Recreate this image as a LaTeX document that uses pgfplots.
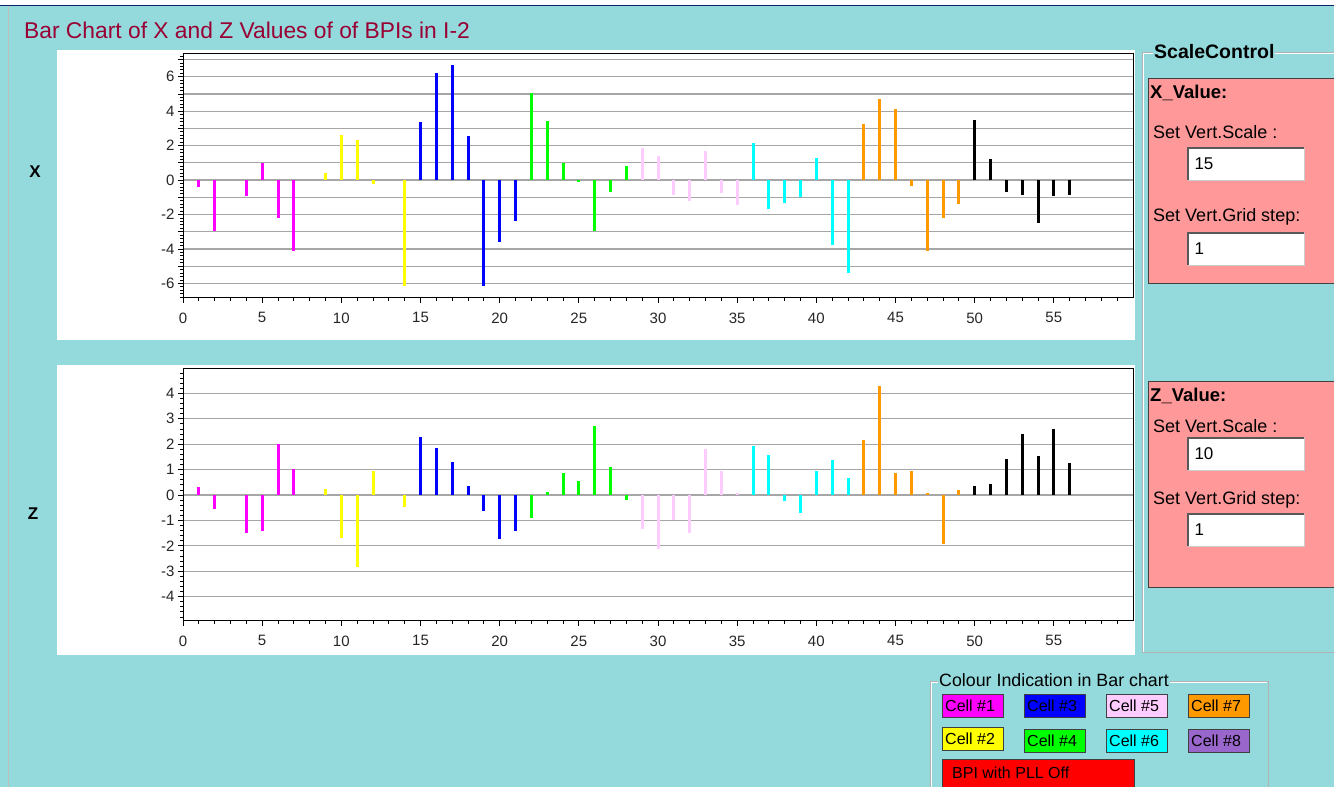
\documentclass[border=0pt]{standalone}
\usepackage{fontspec}
\setmainfont{Liberation Sans}
\usepackage{pgfplots}
\pgfplotsset{compat=1.18}

\definecolor{bg}{RGB}{148,218,221}
\definecolor{navy}{RGB}{10,36,106}
\definecolor{titlered}{RGB}{153,0,51}
\definecolor{boxpink}{RGB}{255,153,153}
\definecolor{c1}{RGB}{255,0,255}
\definecolor{c2}{RGB}{255,255,0}
\definecolor{c3}{RGB}{0,0,255}
\definecolor{c4}{RGB}{0,255,0}
\definecolor{c5}{RGB}{255,204,255}
\definecolor{c6}{RGB}{0,255,255}
\definecolor{c7}{RGB}{255,153,0}
\definecolor{c8}{RGB}{153,102,204}
\definecolor{pll}{RGB}{255,0,0}

\newcommand\fs[1]{\fontsize{#1}{#1}\selectfont}
% text box: y top, y bottom, content
\newcommand\tbox[3]{%
  \fill[white] (1188,#1) rectangle (1304,#2);
  \draw[black!65, line width=1.5] (1188,#2) -- (1188,#1) -- (1304,#1);
  \draw[black!20] (1304,#1) -- (1304,#2) -- (1188,#2);
  \node[anchor=west, font=\fs{17}] at (1191,{(#1+#2)/2}) {#3};}
% legend swatch: x left, y top, colour, label
\newcommand\swatch[4]{%
  \draw[fill=#3, draw=black!75] (#1,#2) rectangle ({#1+61},{#2+23});
  \node[anchor=west, font=\fs{16}, inner sep=0pt] at ({#1+3},{#2+12}) {#4};}

\pgfplotsset{
  bpiaxis/.style={
    scale only axis, width=950pt,
    xmin=0, xmax=60,
    xtick={0,5,...,55}, minor xtick={1,2,...,59},
    tick align=outside, xtick pos=bottom, ytick pos=left,
    major tick length=5pt, minor tick length=3pt,
    axis line style={black, line width=1pt},
    tick style={black, line width=0.8pt},
    ymajorgrids, major grid style={black!35, line width=1.2pt},
    /pgf/number format/assume math mode=true,
    ticklabel style={font=\fs{15}, text=black!85},
    xticklabel style={yshift=-6pt},
    every axis plot/.append style={ycomb, no markers, line width=3pt},
  }
}

\begin{document}
\begin{tikzpicture}
\useasboundingbox (0pt,0pt) rectangle (1334pt,787pt);
\fill[bg] (0pt,0pt) rectangle (1334pt,787pt);
\begin{scope}[x=1pt, y=-1pt, shift={(0pt,787pt)}]
  \fill[white] (0,0) rectangle (1334,5);
  \draw[navy, line width=1.5] (0,5.5) -- (1334,5.5);
  \draw[black!25] (8,6) -- (8,787);
  \fill[white] (57,50) rectangle (1135,340);
  \fill[white] (57,365) rectangle (1135,655);
  \node[anchor=base west, inner sep=0pt, font=\fs{22.8}, text=titlered] at (24,39)
    {Bar Chart of X and Z Values of of BPIs in I-2};
  \node[font=\fs{17}\bfseries] at (35,172) {X};
  \node[font=\fs{17}\bfseries] at (33,514) {Z};

  % ScaleControl group
  \draw[black!30] (1142,652) -- (1142,52) -- (1334,52);
  \draw[white] (1143,652) -- (1143,53) -- (1334,53);
  \draw[black!30] (1142,652) -- (1334,652);
  \node[anchor=west, fill=bg, inner sep=1pt, font=\fs{19.5}\bfseries] at (1153,52) {ScaleControl};
  \draw[fill=boxpink, draw=black!75] (1148,78) rectangle (1340,283);
  \node[anchor=west, font=\fs{18.5}\bfseries, inner sep=0pt] at (1150,93) {X\_Value:};
  \node[anchor=west, font=\fs{18}, inner sep=0pt] at (1153,132) {Set Vert.Scale :};
  \tbox{148}{180}{15}
  \node[anchor=west, font=\fs{18}, inner sep=0pt] at (1153,217) {Set Vert.Grid step:};
  \tbox{233}{265}{1}
  \draw[fill=boxpink, draw=black!75] (1148,381) rectangle (1340,587);
  \node[anchor=west, font=\fs{18.5}\bfseries, inner sep=0pt] at (1150,396) {Z\_Value:};
  \node[anchor=west, font=\fs{18}, inner sep=0pt] at (1153,426) {Set Vert.Scale :};
  \tbox{438}{470}{10}
  \node[anchor=west, font=\fs{18}, inner sep=0pt] at (1153,500) {Set Vert.Grid step:};
  \tbox{514}{546}{1}

  % colour legend group
  \draw[black!30] (930,790) -- (930,681) -- (1268,681) -- (1268,790);
  \draw[white] (931,790) -- (931,682) -- (1267,682);
  \node[anchor=west, fill=bg, inner sep=1pt, font=\fs{17.8}] at (938,680) {Colour Indication in Bar chart};
  \swatch{942}{694}{c1}{Cell \#1}
  \swatch{1024}{694}{c3}{Cell \#3}
  \swatch{1106}{694}{c5}{Cell \#5}
  \swatch{1188}{694}{c7}{Cell \#7}
  \swatch{942}{727}{c2}{Cell \#2}
  \swatch{1024}{729}{c4}{Cell \#4}
  \swatch{1106}{729}{c6}{Cell \#6}
  \swatch{1188}{729}{c8}{Cell \#8}
  \draw[fill=pll, draw=black!75] (942,759) rectangle (1134,787);
  \node[anchor=west, font=\fs{16}, inner sep=0pt] at (952,773) {BPI with PLL Off};
\end{scope}

% X values
\begin{axis}[bpiaxis, at={(183pt,489pt)}, anchor=south west, height=245pt,
  ymin=-6.85, ymax=7.38,
  ytick={-6,-5,...,7}, yticklabels={-6,,-4,,-2,,0,,2,,4,,6,},
  minor ytick={-6.8,-6.6,...,7.3}]
\addplot[c1] coordinates {(1,-0.43) (2,-2.95) (4,-0.95) (5,1.0) (6,-2.2) (7,-4.1)};
\addplot[c2] coordinates {(9,0.4) (10,2.64) (11,2.35) (12,-0.2) (14,-6.18)};
\addplot[c3] coordinates {(15,3.37) (16,6.22) (17,6.7) (18,2.56) (19,-6.18) (20,-3.57) (21,-2.36)};
\addplot[c4] coordinates {(22,5.04) (23,3.43) (24,0.99) (25,-0.14) (26,-2.95) (27,-0.7) (28,0.81)};
\addplot[c5] coordinates {(29,1.84) (30,1.38) (31,-0.85) (32,-1.24) (33,1.69) (34,-0.78) (35,-1.43)};
\addplot[c6] coordinates {(36,2.15) (37,-1.67) (38,-1.34) (39,-0.96) (40,1.28) (41,-3.8) (42,-5.39)};
\addplot[c7] coordinates {(43,3.28) (44,4.71) (45,4.15) (46,-0.37) (47,-4.1) (48,-2.2) (49,-1.41)};
\addplot[black] coordinates {(50,3.5) (51,1.2) (52,-0.68) (53,-0.85) (54,-2.52) (55,-0.93) (56,-0.85)};
\end{axis}

% Z values
\begin{axis}[bpiaxis, at={(183pt,166pt)}, anchor=south west, height=252pt,
  ymin=-4.96, ymax=4.96,
  ytick={-4,-3,...,4}, yticklabels={-4,-3,-2,-1,0,1,2,3,4},
  minor ytick={-4.8,-4.6,...,4.9}]
\addplot[c1] coordinates {(1,0.33) (2,-0.57) (4,-1.49) (5,-1.43) (6,1.99) (7,1.04)};
\addplot[c2] coordinates {(9,0.22) (10,-1.7) (11,-2.84) (12,0.93) (14,-0.46)};
\addplot[c3] coordinates {(15,2.3) (16,1.86) (17,1.3) (18,0.34) (19,-0.62) (20,-1.75) (21,-1.43)};
\addplot[c4] coordinates {(22,-0.89) (23,0.12) (24,0.88) (25,0.55) (26,2.72) (27,1.1) (28,-0.18)};
\addplot[c5] coordinates {(29,-1.33) (30,-2.12) (31,-1.0) (32,-1.49) (33,1.8) (34,0.95) (35,0.08)};
\addplot[c6] coordinates {(36,1.92) (37,1.59) (38,-0.24) (39,-0.71) (40,0.96) (41,1.37) (42,0.67)};
\addplot[c7] coordinates {(43,2.18) (44,4.3) (45,0.88) (46,0.96) (47,0.09) (48,-1.92) (49,0.18)};
\addplot[black] coordinates {(50,0.34) (51,0.42) (52,1.43) (53,2.41) (54,1.55) (55,2.58) (56,1.26)};
\end{axis}
\end{tikzpicture}
\end{document}
